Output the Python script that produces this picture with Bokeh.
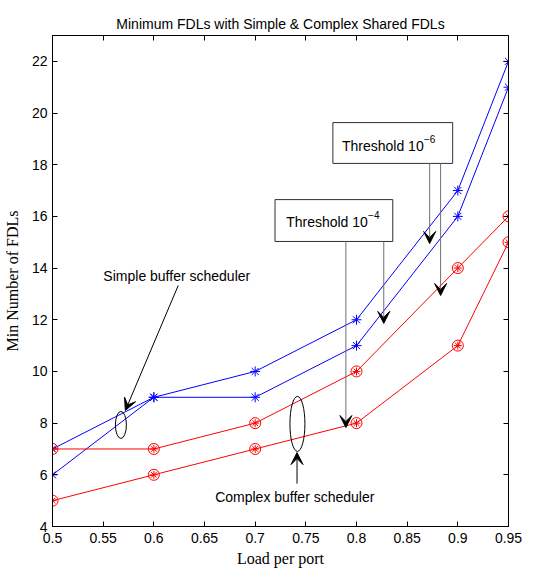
from bokeh.plotting import figure
from bokeh.models import (FixedTicker, LinearAxis, Arrow, VeeHead, BoxAnnotation, Range1d)
from bokeh.core.properties import value
from bokeh.embed import file_html
from bokeh.resources import INLINE

# ---- data ----
load = [0.5, 0.6, 0.7, 0.8, 0.9, 0.95]
simple_a = [7, 9, 10, 12, 17, 22]
simple_b = [6, 9, 9, 11, 16, 21]
complex_a = [7, 7, 8, 10, 14, 16]
complex_b = [5, 6, 7, 8, 11, 15]
x_ticks = [0.5, 0.55, 0.6, 0.65, 0.7, 0.75, 0.8, 0.85, 0.9, 0.95]
x_tick_labels = ["0.5", "0.55", "0.6", "0.65", "0.7", "0.75", "0.8", "0.85", "0.9", "0.95"]
y_ticks = [4, 6, 8, 10, 12, 14, 16, 18, 20, 22]

SANS = "Liberation Sans"
SERIF = "Liberation Serif"

p = figure(width=535, height=580, output_backend="svg", toolbar_location=None,
           x_range=Range1d(0.5, 0.95), y_range=Range1d(4, 23),
           x_axis_label="Load per port", y_axis_label="Min Number of FDLs",
           min_border_left=51, min_border_right=27, min_border_top=35, min_border_bottom=54,
           title="Minimum FDLs with Simple & Complex Shared FDLs")
p.title.align = "center"
p.title.text_font = SANS
p.title.text_font_style = "normal"
p.title.text_font_size = "14px"
p.title.text_color = "black"
p.title.standoff = 8
p.xgrid.visible = False
p.ygrid.visible = False
p.outline_line_color = "black"
p.outline_line_width = 1
p.background_fill_color = "white"
p.border_fill_color = "white"

for ax in (p.xaxis[0], p.yaxis[0]):
    ax.major_tick_in = 5
    ax.major_tick_out = 0
    ax.minor_tick_in = 0
    ax.minor_tick_out = 0
    ax.axis_line_color = "black"
    ax.major_tick_line_color = "black"
    ax.major_label_text_font = SANS
    ax.major_label_text_font_size = "14px"
    ax.major_label_text_color = "black"
    ax.axis_label_text_font = SERIF
    ax.axis_label_text_font_style = "normal"
    ax.axis_label_text_font_size = "16px"
    ax.axis_label_text_color = "black"

p.xaxis[0].ticker = FixedTicker(ticks=x_ticks)
p.xaxis[0].major_label_overrides = {t: l for t, l in zip(x_ticks, x_tick_labels)}
p.xaxis[0].major_label_standoff = 6
p.xaxis[0].axis_label_standoff = 4
p.yaxis[0].ticker = FixedTicker(ticks=y_ticks)
p.yaxis[0].major_label_standoff = 5
p.yaxis[0].axis_label_standoff = 8

for side, ticks in (("above", x_ticks), ("right", y_ticks)):
    ax = LinearAxis(ticker=FixedTicker(ticks=ticks), major_tick_in=5, major_tick_out=0,
                    minor_tick_in=0, minor_tick_out=0, major_label_text_font_size="0px",
                    axis_line_color="black", major_tick_line_color="black")
    ax.major_label_text_alpha = 0
    p.add_layout(ax, side)

# ---- series ----
BLUE = "#0000ff"
RED = "#ff0000"
for ys in (simple_a, simple_b):
    p.line(load, ys, line_color=BLUE, line_width=1)
    p.scatter(load, ys, marker="asterisk", size=10, line_color=BLUE, line_width=1)
for ys in (complex_a, complex_b):
    p.line(load, ys, line_color=RED, line_width=1)
    p.scatter(load, ys, marker="circle", size=11, line_color=RED, fill_color=None, line_width=1)
    p.scatter(load, ys, marker="asterisk", size=8, line_color=RED, line_width=1)

# ---- annotations ----
def arrow(x0, y0, x1, y1, color="#707070"):
    p.add_layout(Arrow(x_start=x0, y_start=y0, x_end=x1, y_end=y1,
                       line_color=color, line_width=1,
                       end=VeeHead(size=12, fill_color="black", line_color="black", line_width=1)))

# Threshold boxes
p.add_layout(BoxAnnotation(left=0.7767, right=0.8949, bottom=18.05, top=19.63, level="underlay",
                           fill_color="white", fill_alpha=1, line_color="#303030",
                           line_alpha=1, line_width=1))
p.add_layout(BoxAnnotation(left=0.7196, right=0.8358, bottom=15.03, top=16.65, level="underlay",
                           fill_color="white", fill_alpha=1, line_color="#303030",
                           line_alpha=1, line_width=1))

p.text(x=[0.8663], y=[18.74], text=["Threshold 10"], text_align="right", text_baseline="middle",
       text_font=value(SANS), text_font_size="14px", text_color="black")
p.text(x=[0.8665], y=[18.74], text=["\u22126"], text_align="left", text_baseline="middle",
       y_offset=-7, text_font=value(SANS), text_font_size="10px", text_color="black")
p.text(x=[0.8112], y=[15.78], text=["Threshold 10"], text_align="right", text_baseline="middle",
       text_font=value(SANS), text_font_size="14px", text_color="black")
p.text(x=[0.8114], y=[15.78], text=["\u22124"], text_align="left", text_baseline="middle",
       y_offset=-7, text_font=value(SANS), text_font_size="10px", text_color="black")

arrow(0.8722, 18.05, 0.8722, 14.95)
arrow(0.8830, 18.05, 0.8830, 12.94)
arrow(0.7895, 15.03, 0.7895, 7.83)
arrow(0.8269, 15.03, 0.8269, 11.86)

# Simple buffer scheduler
p.text(x=[0.5502], y=[13.71], text=["Simple buffer scheduler"], text_align="left",
       text_baseline="middle", text_font=value(SANS), text_font_size="14px", text_color="black")
arrow(0.6241, 13.33, 0.5719, 8.49, color="black")
p.ellipse(x=[0.5675], y=[7.93], width=11, height=27, width_units="screen", height_units="screen",
          fill_color=None, line_color="black", line_width=1)

# Complex buffer scheduler
p.text(x=[0.6605], y=[5.16], text=["Complex buffer scheduler"], text_align="left",
       text_baseline="middle", text_font=value(SANS), text_font_size="14px", text_color="black")
arrow(0.7413, 5.66, 0.7413, 6.86, color="black")
p.ellipse(x=[0.7417], y=[7.97], width=15, height=55, width_units="screen", height_units="screen",
          fill_color=None, line_color="black", line_width=1)

open("out.html", "w").write(file_html(p, INLINE))
